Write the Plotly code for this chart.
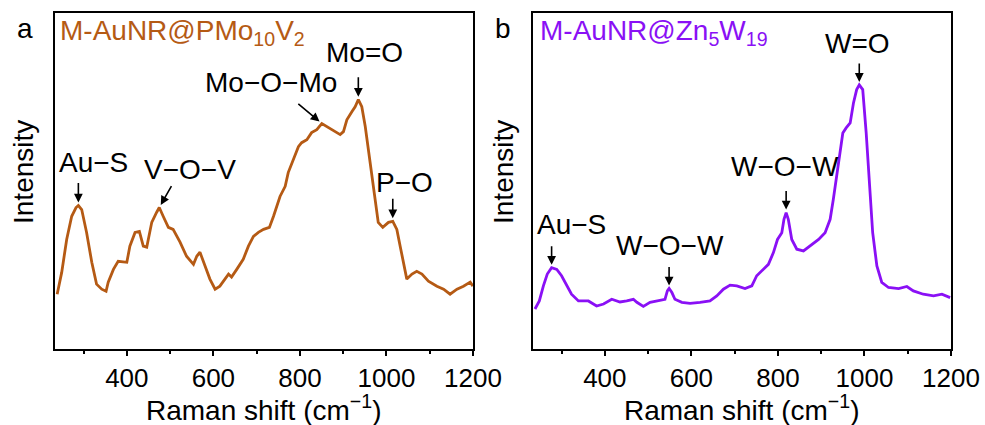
import plotly.graph_objects as go

# Raman spectrum of M-AuNR@PMo10V2 (arbitrary intensity units)
shift_a = [239, 249.5, 261, 272.6, 282.6, 288, 295.7, 307, 319, 330, 342, 352, 357, 369, 380,
           400, 407, 419, 429, 438, 446, 457.6, 469, 475, 484, 496, 507, 523, 538, 554, 561.6,
           569, 581, 592, 604, 615, 635, 642, 654, 669, 681, 692.6, 704, 716, 729.5, 739, 754,
           766, 773, 785, 796.5, 804, 816, 827, 839, 850.6, 862, 874, 885, 893, 900.6, 908.5,
           920, 927.6, 935, 943, 951, 958, 966, 974, 981, 991.5, 1004.6, 1014.6, 1024, 1031.7,
           1039, 1047, 1059, 1070, 1082, 1097, 1116.6, 1132, 1147, 1163, 1178, 1193.5, 1199.8]
int_a = [16.3, 22.8, 32.6, 39.5, 42.1, 42.7, 41.5, 34.7, 25.8, 19.3, 17.8, 17.2, 19.9, 23.7, 26.1,
         25.8, 30.6, 34.7, 35.0, 30.6, 30.3, 37.7, 40.7, 42.1, 39.5, 36.2, 35.6, 31.8, 27.6, 25.2, 27.6,
         28.8, 24.6, 20.8, 17.8, 18.7, 22.3, 21.4, 23.7, 26.7, 30.6, 33.5, 34.7, 35.6, 36.2, 39.5, 45.4,
         48.4, 52.5, 56.4, 60.2, 61.4, 62.3, 64.4, 65.3, 67.1, 66.2, 65.3, 64.4, 63.8, 64.7, 68.2,
         70.6, 72.1, 74.2, 72.1, 66.2, 59.3, 51.3, 43.6, 37.7, 36.2, 37.7, 38.0, 35.6, 30.6,
         25.8, 20.8, 22.3, 23.1, 22.3, 20.2, 18.7, 17.8, 16.3, 17.8, 18.7, 19.9, 18.7]

# Raman spectrum of M-AuNR@Zn5W19 (arbitrary intensity units)
shift_b = [238.6, 248.6, 258, 267, 277, 289, 300, 312, 323, 339, 362, 381, 397, 416, 435, 450.6,
           466, 474, 489, 504.5, 524, 539, 544.5, 548.5, 555, 562, 578, 597, 620, 643, 658.7, 674,
           689.5, 705, 724, 739.7, 751, 762.8, 778, 789.6, 799, 809, 814, 819, 824, 832, 843.7,
           859, 874.5, 894, 909, 920.7, 928, 936, 944, 950, 957.7, 967, 974.6, 982, 988, 996,
           1004, 1011.6, 1019, 1028.7, 1040, 1055.6, 1079, 1098, 1113, 1136, 1159.6, 1179, 1198]
int_b = [11.9, 14.3, 18.8, 22.3, 24.2, 23.7, 21.8, 18.8, 16.3, 14.3, 14.3, 12.8, 13.4, 14.8, 14.0, 14.3,
         14.8, 13.9, 12.7, 13.9, 14.3, 14.8, 17.3, 18.0, 16.8, 14.8, 13.9, 13.6, 13.9, 14.3, 15.8, 17.8,
         19.0, 18.8, 18.0, 18.8, 21.8, 23.2, 25.2, 28.7, 32.6, 34.6, 38.6, 40.6, 38.6, 32.6, 29.7,
         29.2, 30.7, 32.6, 34.6, 38.6, 44.5, 51.4, 58.4, 64.3, 65.8, 67.3, 73.2, 77.2, 78.6, 77.2,
         64.3, 48.5, 34.6, 24.7, 19.8, 18.3, 18.0, 18.6, 17.3, 16.3, 15.8, 16.3, 15.3]

# Band assignments: label, band position (cm-1), intensity at the band
bands_a = [("Au−S", 288, 42.7), ("V−O−V", 475, 42.1), ("Mo−O−Mo", 850.6, 67.1),
           ("Mo=O", 935, 74.2), ("P−O", 1014.6, 38.0)]
bands_b = [("Au−S", 277, 24.2), ("W−O−W", 548.5, 18.0), ("W−O−W", 819, 40.6),
           ("W=O", 988, 78.6)]

x_ticks = [400, 600, 800, 1000, 1200]
x_minor = [300, 500, 700, 900, 1100]
x_range = [234, 1200]
y_range = [0, 100]

BROWN = "#B55A14"
PURPLE = "#8A10F5"
FONT = "Arial, Liberation Sans, sans-serif"
TXT = 28

W, H = 985, 425
dom_a = [55 / W, 473 / W]
dom_b = [533 / W, 951 / W]
dom_y = [1 - 349 / H, 1 - 13 / H]

fig = go.Figure()
fig.add_trace(go.Scatter(x=shift_a, y=int_a, mode="lines", line=dict(color=BROWN, width=2.8),
                         xaxis="x", yaxis="y", showlegend=False))
fig.add_trace(go.Scatter(x=shift_b, y=int_b, mode="lines", line=dict(color=PURPLE, width=2.8),
                         xaxis="x2", yaxis="y2", showlegend=False))

xax = dict(range=x_range, tickvals=x_ticks, ticks="outside", ticklen=5, tickwidth=2,
           tickcolor="black", showline=True, linecolor="black", linewidth=2, mirror=True,
           showgrid=False, zeroline=False, automargin=False,
           tickfont=dict(family=FONT, size=26, color="black"),
           minor=dict(tickvals=x_minor, ticks="outside", ticklen=3,
                      tickwidth=2, tickcolor="black"))
yax = dict(range=y_range, showticklabels=False, ticks="", showline=True, linecolor="black",
           linewidth=2, mirror=True, showgrid=False, zeroline=False, automargin=False,
           domain=dom_y)

fig.update_layout(
    template="none",
    width=W, height=H, margin=dict(l=0, r=0, t=0, b=0, autoexpand=False),
    paper_bgcolor="white", plot_bgcolor="white",
    font=dict(family=FONT, color="black"),
    xaxis=dict(xax, domain=dom_a, anchor="y"),
    yaxis=dict(yax, anchor="x"),
    xaxis2=dict(xax, domain=dom_b, anchor="y2"),
    yaxis2=dict(yax, anchor="x2"),
)

ann = []
# band labels (text) and arrows pointing at the bands
label_pos_a = [(321.9, 55.5), (546, 53.4), (733.4, 79.2), (948.5, 88.1), (1041, 49.6)]
arrow_off_a = [(0, -24), (13, -23), (-25, -21), (0, -24), (0, -24)]
label_pos_b = [(323.5, 37.1), (550.8, 30.7), (816.8, 54.4), (985, 91.0)]
arrow_off_b = [(0, -23), (0, -23), (0, -23), (0, -23)]

for (xa, ya), bands, lpos, aoff in [(("x", "y"), bands_a, label_pos_a, arrow_off_a),
                                     (("x2", "y2"), bands_b, label_pos_b, arrow_off_b)]:
    for (name, bx, by), (lx, ly), (ax, ay) in zip(bands, lpos, aoff):
        ann.append(dict(x=lx, y=ly, xref=xa, yref=ya, text=name, showarrow=False,
                        xanchor="center", yanchor="middle",
                        font=dict(family=FONT, size=TXT, color="black")))
        ann.append(dict(x=bx, y=by, xref=xa, yref=ya, text="", showarrow=True,
                        ax=ax, ay=ay, axref="pixel", ayref="pixel", arrowhead=2,
                        arrowsize=1.1, arrowwidth=1.6, arrowcolor="black", standoff=3))

# sample names
ann.append(dict(x=58 / W, y=1 - 33 / H, xref="paper", yref="paper", xanchor="left", yanchor="middle",
                text="M-AuNR@PMo<sub>10</sub>V<sub>2</sub>", showarrow=False,
                font=dict(family=FONT, size=TXT, color=BROWN)))
ann.append(dict(x=538 / W, y=1 - 33 / H, xref="paper", yref="paper", xanchor="left", yanchor="middle",
                text="M-AuNR@Zn<sub>5</sub>W<sub>19</sub>", showarrow=False,
                font=dict(family=FONT, size=TXT, color=PURPLE)))
# panel letters
for letter, px in [("a", 25), ("b", 503)]:
    ann.append(dict(x=px / W, y=1 - 28 / H, xref="paper", yref="paper", xanchor="center",
                    yanchor="middle", text=letter, showarrow=False,
                    font=dict(family=FONT, size=TXT, color="black")))
# axis titles
for cx in [(dom_a[0] + dom_a[1]) / 2, (dom_b[0] + dom_b[1]) / 2]:
    ann.append(dict(x=cx, y=1 - 408 / H, xref="paper", yref="paper", xanchor="center",
                    yanchor="middle", text="Raman shift (cm<sup>−1</sup>)", showarrow=False,
                    font=dict(family=FONT, size=TXT, color="black")))
for px in [23, 503]:
    ann.append(dict(x=px / W, y=1 - 172 / H, xref="paper", yref="paper", xanchor="center",
                    yanchor="middle", text="Intensity", textangle=-90, showarrow=False,
                    font=dict(family=FONT, size=TXT, color="black")))

fig.update_layout(annotations=ann)
fig.write_html("out.html")
